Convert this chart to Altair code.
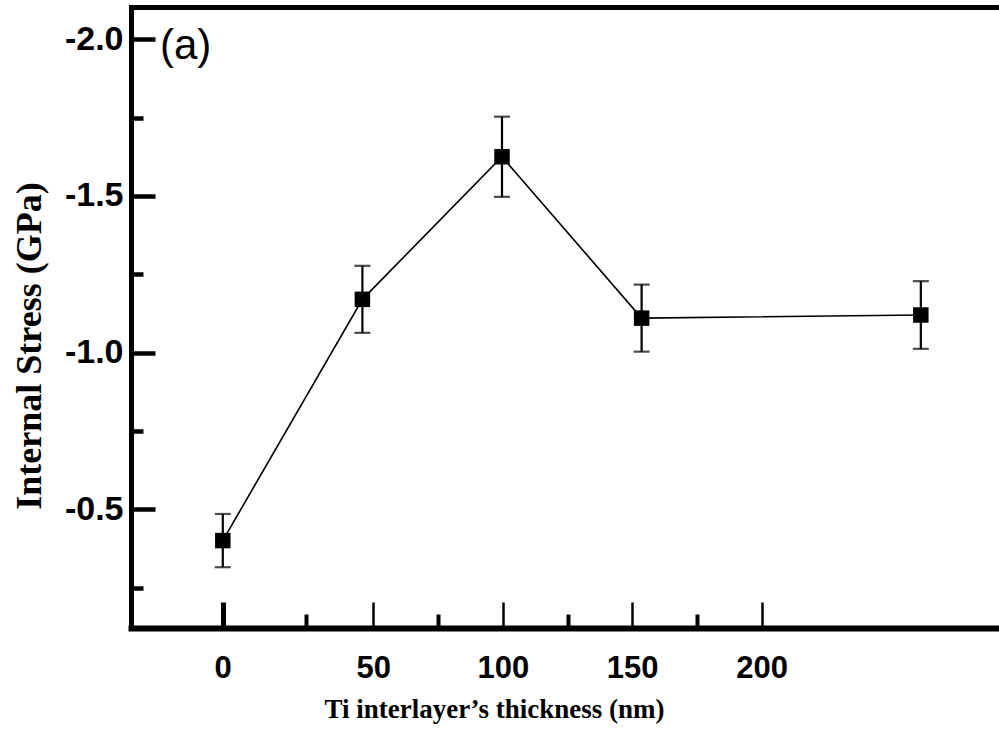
import altair as alt
import pandas as pd

# Internal stress vs. Ti interlayer thickness
thickness_nm = [0, 40, 80, 120, 200]
stress_gpa = [-0.40, -1.17, -1.625, -1.11, -1.12]
stress_err = [0.085, 0.107, 0.128, 0.107, 0.108]

# axis tick positions
x_major = [0, 50, 100, 150, 200]
x_minor = [25, 75, 125, 175]
y_major = [-2.0, -1.5, -1.0, -0.5]
y_minor = [-1.75, -1.25, -0.75, -0.25]

panel_label = "(a)"
x_title = "Ti interlayer\u2019s thickness (nm)"
y_title = "Internal Stress (GPa)"

W, H = 868, 621

df = pd.DataFrame({
    "thickness": thickness_nm,
    "stress": stress_gpa,
    "lo": [s - e for s, e in zip(stress_gpa, stress_err)],
    "hi": [s + e for s, e in zip(stress_gpa, stress_err)],
})

y_scale = alt.Scale(domain=[-2.103, -0.121], reverse=True, nice=False, zero=False)
data_x_scale = alt.Scale(domain=[-26.3, 222.4], nice=False, zero=False)
# the printed thickness ruler is not evenly spaced
axis_x_scale = alt.Scale(
    domain=[-27.5, 0, 25, 50, 200, 291.7],
    range=[0, 91.7, 175, 242.3, 630.7, W],
    nice=False, zero=False,
)

SANS = "Liberation Sans"
NARROW = "Liberation Sans Narrow, Arial Narrow, Liberation Sans"
SERIF = "Liberation Serif"

base = alt.Chart(df)
ghost = base.mark_point(opacity=0)

# main axes: labels, titles and heavy frame lines
axes_main = ghost.encode(
    x=alt.X("thickness:Q", scale=axis_x_scale, axis=alt.Axis(
        orient="bottom", values=x_major, ticks=False, tickSize=0, grid=False,
        labelPadding=49, labelBaseline="alphabetic", labelFont=NARROW,
        labelFontSize=31, labelFontWeight="bold", labelColor="black",
        labelFlush=False, labelOverlap=False,
        domainWidth=6, domainColor="black", domainCap="square",
        title=x_title, titleFont=SERIF, titleFontSize=27, titleFontWeight="bold",
        titleColor="black", titleX=363, titleY=89, titleAlign="center",
        titleBaseline="alphabetic",
    )),
    y=alt.Y("stress:Q", scale=y_scale, axis=alt.Axis(
        orient="left", values=y_major, ticks=False, tickSize=0, grid=False,
        labelPadding=8, labelAlign="right", labelBaseline="middle",
        labelFont=SANS, labelFontSize=34, labelFontWeight="bold", labelColor="black",
        labelExpr="(datum.value < 0 ? '-' : '') + format(abs(datum.value), '.1f')",
        labelFlush=False, labelOverlap=False,
        domainWidth=5, domainColor="black", domainCap="square",
        title=y_title, titleFont=SERIF, titleFontSize=36, titleFontWeight="bold",
        titleColor="black", titleAngle=270, titleX=-91, titleY=338.5,
        titleAlign="center", titleBaseline="alphabetic",
    )),
)

# top frame line and inward major ticks on the stress axis
axes_frame = ghost.encode(
    x=alt.X("thickness:Q", scale=axis_x_scale, axis=alt.Axis(
        orient="top", ticks=False, labels=False, grid=False,
        domainWidth=5, domainColor="black", domainCap="square", title=None,
    )),
    y=alt.Y("stress:Q", scale=y_scale, axis=alt.Axis(
        orient="right", offset=-W, values=y_major, labels=False, domain=False,
        grid=False, tickSize=24, tickWidth=4.5, tickColor="black", title=None,
    )),
)

# inward major thickness ticks and minor stress ticks
axes_major = ghost.encode(
    x=alt.X("thickness:Q", scale=axis_x_scale, axis=alt.Axis(
        orient="top", offset=-H, values=x_major, labels=False, domain=False,
        grid=False, tickSize=26, tickColor="black",
        tickWidth={"condition": {"test": "datum.value === 0", "value": 5}, "value": 2.5},
        title=None,
    )),
    y=alt.Y("stress:Q", scale=y_scale, axis=alt.Axis(
        orient="right", offset=-W, values=y_minor, labels=False, domain=False,
        grid=False, tickSize=12, tickWidth=4.5, tickColor="black", title=None,
    )),
)

# inward minor thickness ticks
axes_minor = ghost.encode(
    x=alt.X("thickness:Q", scale=axis_x_scale, axis=alt.Axis(
        orient="top", offset=-H, values=x_minor, labels=False, domain=False,
        grid=False, tickSize=14, tickWidth=4, tickColor="black", title=None,
    )),
    y=alt.Y("stress:Q", scale=y_scale, axis=None),
)

x_enc = alt.X("thickness:Q", scale=data_x_scale, axis=None)

line = base.mark_line(color="black", strokeWidth=1.6).encode(
    x=x_enc,
    y=alt.Y("stress:Q", scale=y_scale, axis=None),
)

errors = base.mark_errorbar(ticks=True, size=16, thickness=2.2, color="black").encode(
    x=x_enc,
    y=alt.Y("lo:Q", scale=y_scale, axis=None),
    y2="hi:Q",
)

squares = base.mark_square(size=240, color="black", filled=True, opacity=1).encode(
    x=x_enc,
    y=alt.Y("stress:Q", scale=y_scale, axis=None),
)

label = alt.Chart(pd.DataFrame({"text": [panel_label]})).mark_text(
    font=SANS, fontSize=42, color="black", align="left", baseline="alphabetic",
).encode(text="text:N", x=alt.value(29), y=alt.value(52))

chart = (
    alt.layer(axes_main, axes_frame, axes_major, axes_minor, line, errors, squares, label)
    .resolve_scale(x="independent")
    .resolve_axis(x="independent", y="independent")
    .properties(
        width=W, height=H,
        autosize=alt.AutoSizeParams(type="none"),
        padding={"left": 131, "top": 7, "right": 0, "bottom": 101},
        background="white",
    )
    .configure_view(stroke=None)
)

chart.save("out.html", embed_options={"renderer": "svg", "actions": False})
